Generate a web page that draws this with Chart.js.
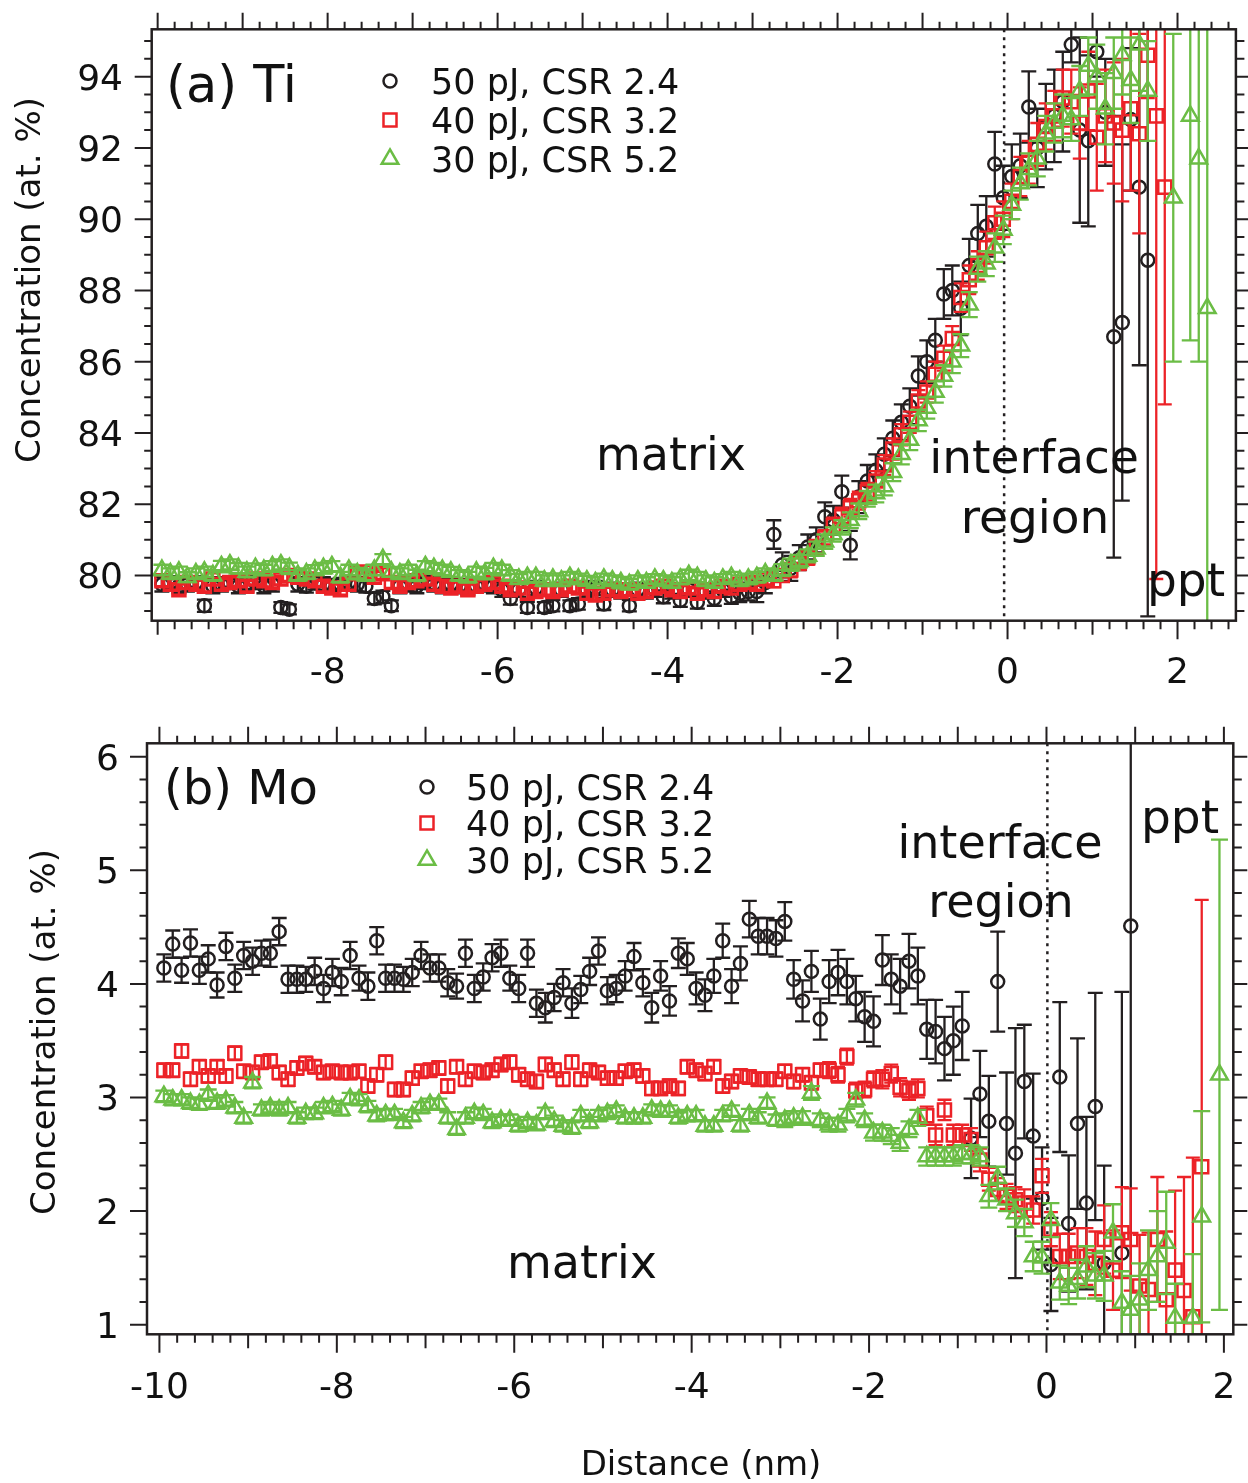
<!DOCTYPE html>
<html>
<head>
<meta charset="utf-8">
<title>Ti and Mo concentration profiles across the interface</title>
<script src="https://cdn.jsdelivr.net/npm/chart.js@4.4.1/dist/chart.umd.min.js"></script>
<style>
  html, body { margin: 0; padding: 0; background: #fff; }
  #wrap { position: relative; width: 1248px; height: 1483px; }
  #wrap canvas { position: absolute; left: 0; top: 0; }
</style>
</head>
<body>
<div id="wrap">
  <canvas id="ti-chart" width="1248" height="1483"></canvas>
  <canvas id="mo-chart" width="1248" height="1483"></canvas>
</div>
<script>
const FONT = "'DejaVu Sans', sans-serif";
const INK = "#231f20";

// distance (nm) of each bin, shared by all series
const DISTANCE = [
  -9.95, -9.85, -9.75, -9.65, -9.55, -9.45, -9.35, -9.25, -9.15, -9.05,
  -8.95, -8.85, -8.75, -8.65, -8.55, -8.45, -8.35, -8.25, -8.15, -8.05,
  -7.95, -7.85, -7.75, -7.65, -7.55, -7.45, -7.35, -7.25, -7.15, -7.05,
  -6.95, -6.85, -6.75, -6.65, -6.55, -6.45, -6.35, -6.25, -6.15, -6.05,
  -5.95, -5.85, -5.75, -5.65, -5.55, -5.45, -5.35, -5.25, -5.15, -5.05,
  -4.95, -4.85, -4.75, -4.65, -4.55, -4.45, -4.35, -4.25, -4.15, -4.05,
  -3.95, -3.85, -3.75, -3.65, -3.55, -3.45, -3.35, -3.25, -3.15, -3.05,
  -2.95, -2.85, -2.75, -2.65, -2.55, -2.45, -2.35, -2.25, -2.15, -2.05,
  -1.95, -1.85, -1.75, -1.65, -1.55, -1.45, -1.35, -1.25, -1.15, -1.05,
  -0.95, -0.85, -0.75, -0.65, -0.55, -0.45, -0.35, -0.25, -0.15, -0.05,
  0.05, 0.15, 0.25, 0.35, 0.45, 0.55, 0.65, 0.75, 0.85, 0.95,
  1.05, 1.15, 1.25, 1.35, 1.45, 1.55, 1.65, 1.75, 1.85, 1.95,
  2.05, 2.15, 2.25, 2.35,
];

const SERIES_LABELS = ["50 pJ, CSR 2.4", "40 pJ, CSR 3.2", "30 pJ, CSR 5.2"];

// (a) Ti, at. %
const TI_50PJ = [
  79.75, 79.8, 79.7, 79.75, 79.8, 79.15, 79.7, 79.75, 79.8, 79.7,
  79.75, 79.8, 79.7, 79.75, 79.1, 79.05, 79.75, 79.7, 79.8, 79.75,
  79.7, 79.75, 79.8, 79.75, 79.7, 79.35, 79.4, 79.15, 79.7, 79.75,
  79.7, 79.8, 79.75, 79.7, 79.75, 79.7, 79.65, 79.7, 79.75, 79.7,
  79.6, 79.35, 79.6, 79.1, 79.65, 79.1, 79.15, 79.6, 79.15, 79.2,
  79.6, 79.65, 79.2, 79.6, 79.55, 79.15, 79.6, 79.55, 79.6, 79.4,
  79.55, 79.3, 79.6, 79.25, 79.55, 79.35, 79.6, 79.4, 79.5, 79.55,
  79.55, 79.8, 81.15, 80.3, 80.2, 80.5, 80.8, 81.0, 81.65, 81.55,
  82.35, 80.85, 82.2, 82.65, 82.95, 83.4, 83.85, 84.3, 84.75, 85.6,
  86.0, 86.6, 87.9, 88.0, 87.5, 88.7, 89.6, 89.8, 91.55, 90.6,
  91.2, 91.5, 93.15, 92.0, 92.6, 92.9, 93.3, 94.9, 92.5, 92.2,
  94.7, 93.0, 86.7, 87.1, 92.8, 90.9, 88.85,
];
const TI_50PJ_ERR = [
  0.2, 0.18, 0.2, 0.2, 0.18, 0.17, 0.2, 0.2, 0.18, 0.2,
  0.2, 0.18, 0.2, 0.2, 0.15, 0.14, 0.2, 0.18, 0.2, 0.2,
  0.2, 0.18, 0.2, 0.2, 0.18, 0.16, 0.17, 0.15, 0.2, 0.2,
  0.2, 0.18, 0.2, 0.2, 0.18, 0.2, 0.2, 0.18, 0.2, 0.2,
  0.2, 0.17, 0.2, 0.15, 0.2, 0.15, 0.16, 0.2, 0.15, 0.16,
  0.2, 0.2, 0.17, 0.2, 0.2, 0.16, 0.2, 0.2, 0.2, 0.18,
  0.2, 0.18, 0.2, 0.18, 0.2, 0.2, 0.2, 0.2, 0.25, 0.25,
  0.3, 0.3, 0.4, 0.35, 0.35, 0.35, 0.35, 0.35, 0.4, 0.4,
  0.45, 0.4, 0.45, 0.45, 0.45, 0.45, 0.5, 0.5, 0.5, 0.55,
  0.6, 0.6, 0.7, 0.7, 0.75, 0.75, 0.8, 0.85, 0.9, 0.9,
  0.9, 0.9, 1.0, 1.1, 1.2, 1.3, 1.4, 0.5, 2.6, 2.4,
  0.7, 1.5, 6.2, 5.0, 2.0, 5.0, 10.0,
];
const TI_40PJ = [
  79.85, 79.75, 79.6, 79.8, 79.75, 79.7, 79.9, 79.75, 79.8, 79.85,
  79.7, 79.9, 79.85, 79.8, 79.9, 80.0, 79.95, 79.9, 79.85, 79.7,
  79.65, 79.6, 79.75, 80.05, 80.1, 79.95, 80.05, 79.8, 79.7, 79.8,
  79.85, 79.9, 79.75, 79.7, 79.65, 79.7, 79.6, 79.7, 79.75, 79.8,
  79.7, 79.6, 79.65, 79.5, 79.55, 79.6, 79.55, 79.6, 79.7, 79.65,
  79.5, 79.45, 79.5, 79.6, 79.55, 79.6, 79.5, 79.55, 79.65, 79.7,
  79.6, 79.55, 79.65, 79.5, 79.6, 79.55, 79.7, 79.65, 79.75, 79.8,
  79.75, 79.9, 79.85, 80.0, 80.15, 80.35, 80.5, 80.8, 81.05, 81.4,
  81.65, 81.9, 82.1, 82.35, 82.65, 83.1, 83.55, 83.95, 84.3, 84.9,
  85.15, 85.65, 86.1, 86.65, 87.8, 88.3, 88.7, 89.2, 89.9, 90.0,
  90.5, 91.2, 91.6, 92.1, 92.6, 92.9, 93.4, 93.3, 92.7, 93.6,
  92.3, 92.9, 92.7, 92.5, 93.1, 92.4, 94.6, 92.9, 90.9,
];
const TI_40PJ_ERR = [
  0.15, 0.15, 0.14, 0.15, 0.15, 0.15, 0.16, 0.15, 0.15, 0.14,
  0.15, 0.15, 0.16, 0.15, 0.15, 0.15, 0.14, 0.15, 0.15, 0.15,
  0.15, 0.14, 0.15, 0.15, 0.16, 0.15, 0.15, 0.15, 0.14, 0.15,
  0.15, 0.15, 0.15, 0.16, 0.15, 0.15, 0.14, 0.15, 0.15, 0.15,
  0.15, 0.15, 0.16, 0.15, 0.15, 0.14, 0.15, 0.15, 0.15, 0.15,
  0.16, 0.15, 0.15, 0.15, 0.14, 0.15, 0.15, 0.15, 0.15, 0.16,
  0.15, 0.15, 0.15, 0.14, 0.15, 0.15, 0.15, 0.16, 0.15, 0.15,
  0.15, 0.15, 0.18, 0.18, 0.2, 0.2, 0.2, 0.2, 0.22, 0.22,
  0.25, 0.25, 0.25, 0.25, 0.28, 0.28, 0.3, 0.3, 0.3, 0.3,
  0.3, 0.35, 0.35, 0.35, 0.4, 0.4, 0.4, 0.45, 0.45, 0.5,
  0.5, 0.55, 0.6, 0.6, 0.65, 0.7, 0.8, 0.9, 1.0, 1.1,
  1.5, 1.3, 1.7, 2.0, 2.3, 2.8, 1.2, 13.0, 6.1,
];
const TI_30PJ = [
  80.15, 80.05, 80.1, 79.95, 80.05, 80.1, 80.0, 80.25, 80.3, 80.2,
  80.1, 80.2, 80.15, 80.25, 80.3, 80.2, 80.0, 80.05, 80.15, 80.2,
  80.25, 79.95, 80.15, 80.05, 80.0, 80.15, 80.45, 80.1, 80.05, 80.15,
  80.0, 80.25, 80.2, 80.15, 80.1, 80.0, 79.95, 80.1, 80.05, 80.2,
  80.15, 80.0, 79.9, 79.95, 79.95, 79.85, 79.9, 79.85, 79.95, 79.9,
  79.85, 79.8, 79.9, 79.85, 79.8, 79.75, 79.85, 79.8, 79.9, 79.85,
  79.8, 79.9, 80.0, 79.95, 79.85, 79.8, 79.9, 79.95, 79.85, 79.9,
  79.95, 80.05, 80.0, 80.15, 80.3, 80.4, 80.55, 80.75, 80.95, 81.15,
  81.35, 81.55, 81.8, 82.15, 82.3, 82.5, 82.9, 83.4, 83.8, 84.35,
  84.7, 85.15, 85.6, 86.0, 86.45, 87.6, 88.6, 88.75, 89.2, 89.7,
  90.4, 91.0, 91.4, 91.7, 92.4, 92.7, 92.9, 92.8, 93.6, 94.3,
  94.0, 93.1, 94.1, 94.6, 93.9, 94.9, 93.6, null, null, 90.6,
  null, 92.9, 91.7, 87.5,
];
const TI_30PJ_ERR = [
  0.15, 0.15, 0.15, 0.14, 0.15, 0.15, 0.15, 0.16, 0.15, 0.15,
  0.15, 0.14, 0.15, 0.15, 0.15, 0.16, 0.15, 0.15, 0.14, 0.15,
  0.15, 0.15, 0.15, 0.16, 0.15, 0.15, 0.15, 0.14, 0.15, 0.15,
  0.16, 0.15, 0.15, 0.15, 0.14, 0.15, 0.15, 0.15, 0.16, 0.15,
  0.15, 0.15, 0.14, 0.15, 0.15, 0.15, 0.16, 0.15, 0.15, 0.15,
  0.14, 0.15, 0.15, 0.15, 0.16, 0.15, 0.15, 0.15, 0.14, 0.15,
  0.15, 0.15, 0.16, 0.15, 0.15, 0.15, 0.14, 0.15, 0.15, 0.15,
  0.15, 0.15, 0.15, 0.17, 0.17, 0.18, 0.18, 0.2, 0.2, 0.2,
  0.2, 0.22, 0.22, 0.22, 0.25, 0.25, 0.25, 0.28, 0.28, 0.3,
  0.3, 0.3, 0.3, 0.32, 0.32, 0.35, 0.35, 0.35, 0.4, 0.4,
  0.4, 0.45, 0.45, 0.5, 0.5, 0.55, 0.6, 0.6, 0.7, 0.8,
  0.9, 1.0, 1.0, 1.1, 1.2, 1.3, 1.4, 0, 0, 4.6,
  0, 6.3, 5.7, 9.0,
];

// (b) Mo, at. %
const MO_50PJ = [
  4.14, 4.35, 4.12, 4.36, 4.12, 4.22, 3.99, 4.33, 4.05, 4.25,
  4.2, 4.27, 4.27, 4.46, 4.04, 4.04, 4.04, 4.11, 3.96, 4.1,
  4.02, 4.25, 4.05, 3.98, 4.38, 4.05, 4.05, 4.04, 4.1, 4.25,
  4.14, 4.14, 4.01, 3.98, 4.27, 3.96, 4.06, 4.23, 4.27, 4.05,
  3.96, 4.27, 3.83, 3.79, 3.88, 4.01, 3.83, 3.95, 4.11, 4.29,
  3.94, 3.96, 4.07, 4.24, 4.01, 3.79, 4.07, 3.85, 4.27, 4.22,
  3.96, 3.9, 4.07, 4.38, 3.98, 4.18, 4.57, 4.42, 4.42, 4.4,
  4.55, 4.04, 3.85, 4.11, 3.69, 4.02, 4.1, 4.02, 3.87, 3.71,
  3.67, 4.21, 4.04, 3.98, 4.2, 4.07, 3.6, 3.58, 3.43, 3.5,
  3.63, 2.64, 3.03, 2.79, 4.02, 2.77, 2.51, 3.14, 2.66, 2.11,
  1.53, 3.18, 1.89, 2.77, 2.07, 2.92, 1.54, null, 1.63, 4.51,
];
const MO_50PJ_ERR = [
  0.12, 0.12, 0.11, 0.12, 0.12, 0.12, 0.11, 0.12, 0.12, 0.12,
  0.12, 0.11, 0.12, 0.12, 0.12, 0.12, 0.11, 0.12, 0.12, 0.12,
  0.12, 0.12, 0.11, 0.12, 0.12, 0.12, 0.12, 0.11, 0.12, 0.12,
  0.12, 0.12, 0.12, 0.11, 0.12, 0.12, 0.12, 0.12, 0.12, 0.11,
  0.12, 0.12, 0.12, 0.13, 0.12, 0.12, 0.13, 0.12, 0.12, 0.12,
  0.12, 0.12, 0.13, 0.12, 0.12, 0.13, 0.13, 0.13, 0.13, 0.14,
  0.14, 0.14, 0.15, 0.15, 0.15, 0.15, 0.16, 0.16, 0.16, 0.16,
  0.17, 0.17, 0.18, 0.18, 0.18, 0.19, 0.2, 0.2, 0.2, 0.22,
  0.22, 0.22, 0.22, 0.24, 0.24, 0.25, 0.26, 0.28, 0.28, 0.3,
  0.3, 0.35, 0.38, 0.4, 0.44, 0.45, 1.1, 0.5, 0.55, 0.45,
  0.41, 0.66, 0.6, 0.75, 0.76, 1.0, 0.86, 0, 2.3, 3.6,
];
const MO_40PJ = [
  3.24, 3.24, 3.41, 3.16, 3.27, 3.19, 3.27, 3.19, 3.39, 3.23,
  3.22, 3.31, 3.32, 3.22, 3.16, 3.26, 3.3, 3.27, 3.22, 3.23,
  3.22, 3.22, 3.23, 3.1, 3.2, 3.31, 3.07, 3.07, 3.17, 3.23,
  3.24, 3.26, 3.1, 3.27, 3.16, 3.23, 3.22, 3.24, 3.29, 3.31,
  3.2, 3.16, 3.14, 3.29, 3.24, 3.16, 3.31, 3.16, 3.24, 3.22,
  3.17, 3.17, 3.23, 3.24, 3.19, 3.08, 3.08, 3.1, 3.08, 3.27,
  3.24, 3.21, 3.27, 3.1, 3.14, 3.19, 3.18, 3.16, 3.16, 3.16,
  3.23, 3.14, 3.2, 3.13, 3.24, 3.24, 3.2, 3.36, 3.06, 3.07,
  3.16, 3.16, 3.21, 3.09, 3.06, 3.08, 2.84, 2.67, 2.89, 2.67,
  2.67, 2.63, 2.45, 2.28, 2.19, 2.13, 2.1, 2.07, 2.01, 2.31,
  1.84, 1.6, 1.6, 1.63, 1.6, 1.54, 1.75, 1.48, 1.81, 1.75,
  1.34, 1.31, 1.75, 1.22, 1.48, 1.3, 1.07, 2.39,
];
const MO_40PJ_ERR = [
  0.06, 0.06, 0.06, 0.06, 0.06, 0.06, 0.06, 0.06, 0.06, 0.06,
  0.06, 0.06, 0.06, 0.06, 0.06, 0.06, 0.06, 0.06, 0.06, 0.06,
  0.06, 0.06, 0.06, 0.06, 0.06, 0.06, 0.06, 0.06, 0.06, 0.06,
  0.06, 0.06, 0.06, 0.06, 0.06, 0.06, 0.06, 0.06, 0.06, 0.06,
  0.06, 0.06, 0.06, 0.06, 0.06, 0.06, 0.06, 0.06, 0.06, 0.06,
  0.06, 0.06, 0.06, 0.06, 0.06, 0.06, 0.06, 0.06, 0.06, 0.06,
  0.06, 0.06, 0.06, 0.06, 0.06, 0.06, 0.06, 0.06, 0.06, 0.06,
  0.06, 0.06, 0.06, 0.06, 0.06, 0.07, 0.07, 0.07, 0.07, 0.07,
  0.07, 0.08, 0.08, 0.08, 0.08, 0.08, 0.08, 0.09, 0.09, 0.09,
  0.09, 0.1, 0.1, 0.1, 0.1, 0.11, 0.11, 0.12, 0.12, 0.15,
  0.15, 0.2, 0.2, 0.22, 0.25, 0.28, 0.3, 0.35, 0.4, 0.45,
  0.45, 0.5, 0.55, 0.6, 0.7, 1.0, 1.4, 2.35,
];
const MO_30PJ = [
  3.01, 2.98, 2.98, 2.95, 2.94, 3.02, 2.95, 2.97, 2.91, 2.82,
  3.13, 2.89, 2.91, 2.89, 2.91, 2.82, 2.86, 2.86, 2.91, 2.92,
  2.89, 2.99, 2.98, 2.92, 2.84, 2.85, 2.85, 2.78, 2.84, 2.91,
  2.94, 2.94, 2.82, 2.72, 2.82, 2.86, 2.85, 2.78, 2.8, 2.8,
  2.75, 2.78, 2.76, 2.86, 2.79, 2.75, 2.73, 2.84, 2.78, 2.84,
  2.86, 2.88, 2.82, 2.82, 2.82, 2.89, 2.88, 2.88, 2.82, 2.84,
  2.84, 2.75, 2.75, 2.84, 2.88, 2.75, 2.85, 2.82, 2.95, 2.8,
  2.8, 2.82, 2.82, 3.04, 2.8, 2.76, 2.76, 2.84, 2.98, 2.8,
  2.69, 2.69, 2.66, 2.6, 2.72, 2.82, 2.48, 2.48, 2.48, 2.48,
  2.5, 2.5, 2.48, 2.13, 2.29, 2.1, 1.98, 1.9, 1.6, 1.59,
  1.92, 1.37, 1.34, 1.4, 1.51, 1.43, 1.43, 1.81, 1.19, 1.13,
  1.22, 1.48, 1.6, 1.72, 1.06, null, 1.06, 1.95, null, 3.2,
];
const MO_30PJ_ERR = [
  0.05, 0.05, 0.05, 0.05, 0.05, 0.05, 0.05, 0.05, 0.05, 0.05,
  0.05, 0.05, 0.05, 0.05, 0.05, 0.05, 0.05, 0.05, 0.05, 0.05,
  0.05, 0.05, 0.05, 0.05, 0.05, 0.05, 0.05, 0.05, 0.05, 0.05,
  0.05, 0.05, 0.05, 0.05, 0.05, 0.05, 0.05, 0.05, 0.05, 0.05,
  0.05, 0.05, 0.05, 0.05, 0.05, 0.05, 0.05, 0.05, 0.05, 0.05,
  0.05, 0.05, 0.05, 0.05, 0.05, 0.05, 0.05, 0.05, 0.05, 0.05,
  0.05, 0.05, 0.05, 0.05, 0.05, 0.05, 0.05, 0.05, 0.05, 0.05,
  0.06, 0.06, 0.06, 0.06, 0.06, 0.06, 0.06, 0.06, 0.06, 0.06,
  0.07, 0.07, 0.07, 0.07, 0.07, 0.07, 0.08, 0.08, 0.08, 0.08,
  0.08, 0.08, 0.08, 0.1, 0.1, 0.1, 0.12, 0.12, 0.13, 0.14,
  0.15, 0.15, 0.16, 0.17, 0.18, 0.2, 0.22, 0.25, 0.28, 0.3,
  0.32, 0.35, 0.4, 0.45, 0.3, 0, 0.56, 0.93, 0, 2.07,
];

// tick labels
const TI_X_TICKS = [-8, -6, -4, -2, 0, 2];
const TI_Y_TICKS = [80, 82, 84, 86, 88, 90, 92, 94];
const MO_X_TICKS = [-10, -8, -6, -4, -2, 0, 2];
const MO_Y_TICKS = [1, 2, 3, 4, 5, 6];

const SERIES_STYLE = [
  { color: INK, pointStyle: "circle", radius: 6.5, cap: 7.5, order: 2 },
  { color: "#ec2227", pointStyle: "rect", radius: 9.2, cap: 7, order: 1 },
  { color: "#6bbd45", pointStyle: "triangle", radius: 9.6, cap: 8.5, order: 0 },
];
const MARK_WIDTH = 2.5;
const BAR_WIDTH = 2.3;

function toPoints(values, errors) {
  const points = [];
  values.forEach((v, i) => {
    if (v === null) return;
    points.push({ x: DISTANCE[i], y: v, err: errors[i] });
  });
  return points;
}

function buildDatasets(series) {
  return series.map(([values, errors], index) => {
    const st = SERIES_STYLE[index];
    return {
      label: SERIES_LABELS[index],
      data: toPoints(values, errors),
      pointStyle: st.pointStyle,
      pointRadius: st.radius,
      pointHoverRadius: st.radius,
      pointBorderWidth: MARK_WIDTH,
      borderColor: st.color,
      pointBorderColor: st.color,
      backgroundColor: "rgba(0,0,0,0)",
      pointBackgroundColor: "rgba(0,0,0,0)",
      showLine: false,
      order: st.order,
      clip: 0,
      capHalf: st.cap,
    };
  });
}

function nearInt(v) {
  return Math.abs(v - Math.round(v)) < 1e-6;
}

function tickSteps(min, max, step) {
  const out = [];
  for (let k = Math.ceil(min / step - 1e-9); k * step <= max + 1e-9; k++) {
    out.push(Math.round(k * step * 1000) / 1000);
  }
  return out;
}

const profileDecor = {
  id: "profileDecor",
  beforeDatasetsDraw(chart, args, opts) {
    const { ctx, chartArea: a } = chart;
    const x0 = chart.scales.x.getPixelForValue(opts.dividerAt);
    ctx.save();
    ctx.strokeStyle = INK;
    ctx.lineWidth = 2.5;
    ctx.setLineDash([3, 5]);
    ctx.beginPath();
    ctx.moveTo(x0, a.top);
    ctx.lineTo(x0, a.bottom);
    ctx.stroke();
    ctx.restore();
  },
  beforeDatasetDraw(chart, args) {
    const ds = chart.data.datasets[args.index];
    const { ctx, chartArea: a } = chart;
    const yScale = chart.scales.y;
    ctx.save();
    ctx.beginPath();
    ctx.rect(a.left, a.top, a.right - a.left, a.bottom - a.top);
    ctx.clip();
    ctx.strokeStyle = ds.borderColor;
    ctx.lineWidth = BAR_WIDTH;
    args.meta.data.forEach((pt, i) => {
      const raw = ds.data[i];
      if (!raw.err) return;
      const top = yScale.getPixelForValue(raw.y + raw.err);
      const bot = yScale.getPixelForValue(raw.y - raw.err);
      ctx.beginPath();
      ctx.moveTo(pt.x, top);
      ctx.lineTo(pt.x, bot);
      ctx.moveTo(pt.x - ds.capHalf, top);
      ctx.lineTo(pt.x + ds.capHalf, top);
      ctx.moveTo(pt.x - ds.capHalf, bot);
      ctx.lineTo(pt.x + ds.capHalf, bot);
      ctx.stroke();
    });
    ctx.restore();
  },
  afterDatasetsDraw(chart, args, opts) {
    const { ctx, chartArea: a } = chart;
    const xs = chart.scales.x;
    const ys = chart.scales.y;
    ctx.save();
    ctx.strokeStyle = INK;
    ctx.fillStyle = "#111";

    // frame
    ctx.lineWidth = 2.5;
    ctx.strokeRect(a.left, a.top, a.right - a.left, a.bottom - a.top);

    // ticks
    ctx.lineWidth = 2;
    ctx.beginPath();
    tickSteps(xs.min, xs.max, opts.xStep).forEach((v) => {
      const px = xs.getPixelForValue(v);
      const labeled = opts.xLabels.includes(v);
      const down = labeled ? 18.5 : nearInt(v) ? 14 : 8.5;
      const up = nearInt(v) ? 16.5 : 7.5;
      ctx.moveTo(px, a.bottom);
      ctx.lineTo(px, a.bottom + down);
      ctx.moveTo(px, a.top);
      ctx.lineTo(px, a.top - up);
    });
    tickSteps(ys.min, ys.max, opts.yStep).forEach((v) => {
      const py = ys.getPixelForValue(v);
      const labeled = opts.yLabels.includes(v);
      ctx.moveTo(a.left, py);
      ctx.lineTo(a.left - (labeled ? 17 : 7.5), py);
      ctx.moveTo(a.right, py);
      ctx.lineTo(a.right + (labeled ? 14 : 8.5), py);
    });
    ctx.stroke();

    // tick labels
    ctx.font = `36px ${FONT}`;
    ctx.textAlign = "center";
    ctx.textBaseline = "alphabetic";
    opts.xLabels.forEach((v) => {
      ctx.fillText(String(v), xs.getPixelForValue(v), opts.xLabelY + 13);
    });
    ctx.textAlign = "right";
    opts.yLabels.forEach((v) => {
      ctx.fillText(String(v), opts.yLabelRight, ys.getPixelForValue(v) + 13);
    });

    // y title
    ctx.save();
    ctx.translate(opts.yTitle.x, opts.yTitle.y);
    ctx.rotate(-Math.PI / 2);
    ctx.font = `34px ${FONT}`;
    ctx.textAlign = "center";
    ctx.textBaseline = "middle";
    ctx.fillText(opts.yTitle.text, 0, 0);
    ctx.restore();

    // notes
    opts.notes.forEach((n) => {
      ctx.font = `${n.size}px ${FONT}`;
      ctx.textAlign = n.align || "left";
      ctx.textBaseline = "alphabetic";
      ctx.fillText(n.text, n.x, n.y);
    });

    // legend
    const lg = opts.legend;
    chart.data.datasets.forEach((ds, i) => {
      const ry = lg.rows[i];
      ctx.save();
      ctx.strokeStyle = ds.borderColor;
      ctx.fillStyle = "rgba(0,0,0,0)";
      ctx.lineWidth = MARK_WIDTH;
      Chart.helpers.drawPoint(ctx, {
        pointStyle: ds.pointStyle, radius: ds.pointRadius, rotation: 0, borderWidth: MARK_WIDTH,
      }, lg.x, ry);
      ctx.restore();
      ctx.font = `35px ${FONT}`;
      ctx.textAlign = "left";
      ctx.textBaseline = "alphabetic";
      ctx.fillText(ds.label, lg.textX, ry + 13);
    });

    if (opts.xTitle) {
      ctx.font = `34px ${FONT}`;
      ctx.textAlign = "center";
      ctx.textBaseline = "middle";
      ctx.fillText(opts.xTitle.text, opts.xTitle.x, opts.xTitle.y);
    }
    ctx.restore();
  },
};

function makeChart(canvasId, datasets, bounds, padding, decor) {
  return new Chart(document.getElementById(canvasId), {
    type: "scatter",
    data: { datasets },
    options: {
      responsive: false,
      animation: false,
      events: [],
      layout: { padding },
      scales: {
        x: { type: "linear", min: bounds.xMin, max: bounds.xMax, display: false },
        y: { type: "linear", min: bounds.yMin, max: bounds.yMax, display: false },
      },
      plugins: {
        legend: { display: false },
        tooltip: { enabled: false },
        profileDecor: decor,
      },
    },
    plugins: [profileDecor],
  });
}

makeChart(
  "ti-chart",
  buildDatasets([[TI_50PJ, TI_50PJ_ERR], [TI_40PJ, TI_40PJ_ERR], [TI_30PJ, TI_30PJ_ERR]]),
  { xMin: -10.07, xMax: 2.687, yMin: 78.73, yMax: 95.33 },
  { left: 151.7, top: 29.3, right: 10.3, bottom: 862.3 },
  {
    xStep: 0.2, yStep: 0.5,
    xLabels: TI_X_TICKS, yLabels: TI_Y_TICKS,
    xLabelY: 670, yLabelRight: 123,
    dividerAt: -0.04,
    yTitle: { text: "Concentration (at. %)", x: 31, y: 280 },
    legend: { x: 390, textX: 431, rows: [81, 120, 159] },
    notes: [
      { text: "(a) Ti", x: 166, y: 102, size: 51 },
      { text: "matrix", x: 671, y: 470, size: 46, align: "center" },
      { text: "interface", x: 1034, y: 473, size: 47, align: "center" },
      { text: "region", x: 1035, y: 533, size: 47, align: "center" },
      { text: "ppt", x: 1147, y: 596, size: 47 },
    ],
  }
);

makeChart(
  "mo-chart",
  buildDatasets([[MO_50PJ, MO_50PJ_ERR], [MO_40PJ, MO_40PJ_ERR], [MO_30PJ, MO_30PJ_ERR]]),
  { xMin: -10.14, xMax: 2.106, yMin: 0.915, yMax: 6.118 },
  { left: 147, top: 743.3, right: 14.7, bottom: 148.7 },
  {
    xStep: 0.2, yStep: 0.2,
    xLabels: MO_X_TICKS, yLabels: MO_Y_TICKS,
    xLabelY: 1385, yLabelRight: 119,
    dividerAt: 0.01,
    yTitle: { text: "Concentration (at. %)", x: 46, y: 1032 },
    xTitle: { text: "Distance (nm)", x: 701, y: 1466 },
    legend: { x: 427, textX: 466, rows: [787, 823, 860] },
    notes: [
      { text: "(b) Mo", x: 164, y: 804, size: 48 },
      { text: "interface", x: 1000, y: 858, size: 46, align: "center" },
      { text: "region", x: 1001, y: 917, size: 46, align: "center" },
      { text: "ppt", x: 1141, y: 833, size: 47 },
      { text: "matrix", x: 582, y: 1278, size: 46, align: "center" },
    ],
  }
);
</script>
</body>
</html>
